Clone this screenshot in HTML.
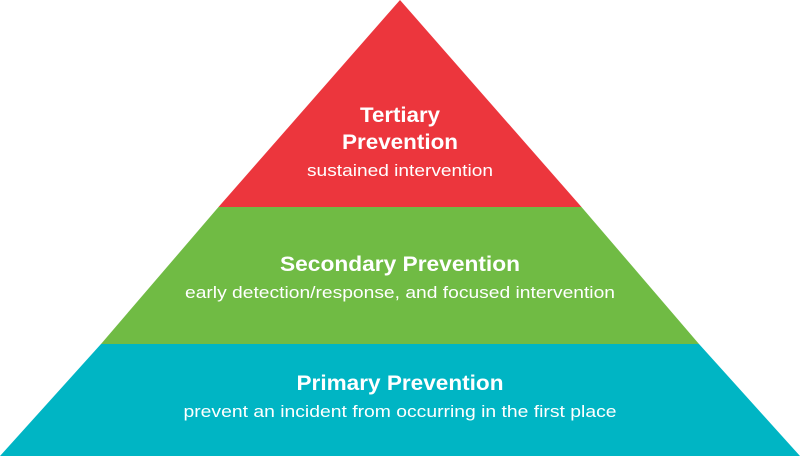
<!DOCTYPE html>
<html><head><meta charset="utf-8"><style>html,body{margin:0;padding:0;background:#fff}svg{display:block}</style></head>
<body>
<svg width="800" height="456" viewBox="0 0 800 456" xmlns="http://www.w3.org/2000/svg" font-family="Liberation Sans, Arial, sans-serif" fill="#fff" text-anchor="middle">
<polygon points="400,0 218.5,207 581.5,207" fill="#ec363d"/>
<polygon points="218.5,207 581.5,207 699,344 101,344" fill="#70bb44"/>
<polygon points="101,344 699,344 800,456 0,456" fill="#00b5c4"/>
<text x="400" y="122" font-size="21" font-weight="bold" textLength="80" lengthAdjust="spacingAndGlyphs">Tertiary</text>
<text x="400" y="149" font-size="21" font-weight="bold" textLength="116" lengthAdjust="spacingAndGlyphs">Prevention</text>
<text x="400" y="176" font-size="17" textLength="186" lengthAdjust="spacingAndGlyphs">sustained intervention</text>
<text x="400" y="271" font-size="21" font-weight="bold" textLength="240" lengthAdjust="spacingAndGlyphs">Secondary Prevention</text>
<text x="400" y="298" font-size="17" textLength="430" lengthAdjust="spacingAndGlyphs">early detection/response, and focused intervention</text>
<text x="400" y="390" font-size="21" font-weight="bold" textLength="207" lengthAdjust="spacingAndGlyphs">Primary Prevention</text>
<text x="400" y="417" font-size="17" textLength="433" lengthAdjust="spacingAndGlyphs">prevent an incident from occurring in the first place</text>
</svg>
</body></html>
